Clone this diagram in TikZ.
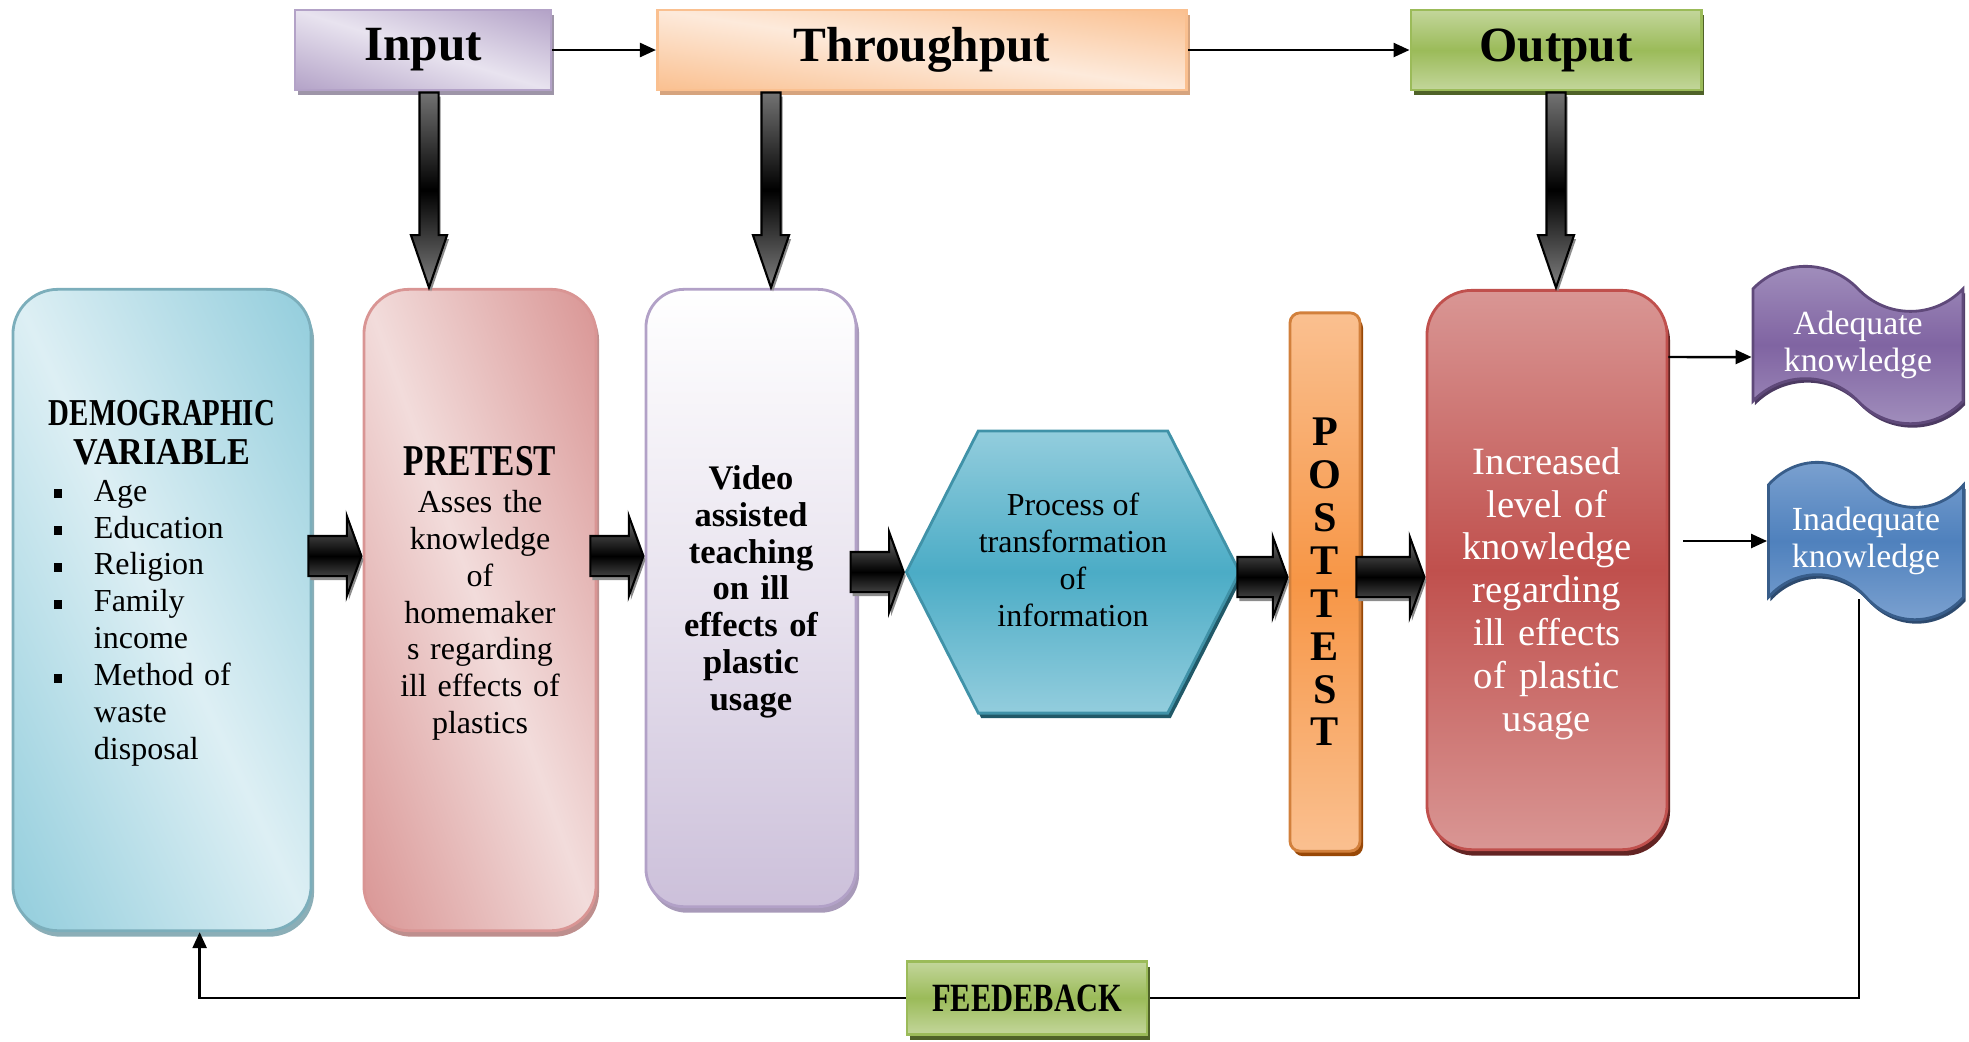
\documentclass[tikz,border=0pt]{standalone}
\usepackage{fontspec}
\setmainfont{Liberation Serif}
\newfontfamily\narrowserif[FakeStretch=0.76]{Liberation Serif}
\newfontfamily\semiserif[FakeStretch=0.9]{Liberation Serif}
\usetikzlibrary{arrows.meta, positioning, calc, shapes.geometric, shapes.symbols, shapes.arrows, shadows, backgrounds}

\definecolor{inpdark}{HTML}{B3A2C7}
\definecolor{inplight}{HTML}{E8E3EF}
\definecolor{inpshadow}{HTML}{9E95A8}
\definecolor{thrdark}{HTML}{FAC090}
\definecolor{thrlight}{HTML}{FDEADB}
\definecolor{thrshadow}{HTML}{D6A47E}
\definecolor{outmid}{HTML}{9BBB59}
\definecolor{outlight}{HTML}{C3D69B}
\definecolor{outshadow}{HTML}{4F6228}
\definecolor{demoblue}{HTML}{92CDDC}
\definecolor{demolight}{HTML}{DDEFF4}
\definecolor{prered}{HTML}{D99594}
\definecolor{prelight}{HTML}{F2DCDB}
\definecolor{vidlav}{HTML}{CCC0DA}
\definecolor{vidborder}{HTML}{B2A1C7}
\definecolor{hexmid}{HTML}{4BACC6}
\definecolor{hexlight}{HTML}{93CDDD}
\definecolor{hexshadow}{HTML}{215968}
\definecolor{postmid}{HTML}{F79646}
\definecolor{postlight}{HTML}{FAC090}
\definecolor{postshadow}{HTML}{984807}
\definecolor{incmid}{HTML}{C0504D}
\definecolor{inclight}{HTML}{D99694}
\definecolor{incshadow}{HTML}{632423}
\definecolor{adqmid}{HTML}{8064A2}
\definecolor{adqlight}{HTML}{A391BE}
\definecolor{adqborder}{HTML}{5F497A}
\definecolor{inadmid}{HTML}{4F81BD}
\definecolor{inadlight}{HTML}{7EA3D1}
\definecolor{inadborder}{HTML}{385D8A}

% light along one diagonal, dark in the other two corners
\newcommand{\diagshade}[3]{%
  \pgfdeclarefunctionalshading[#2,#3]{#1}{\pgfpointorigin}{\pgfpoint{100bp}{100bp}}
  {\pgfshadecolortorgb{#2}{\dk}\pgfshadecolortorgb{#3}{\lt}}
  {add 100 sub abs 50 div dup 1 gt {pop 1} if
   dup dup
   \dkred\space \ltred\space sub mul \ltred\space add
   3 1 roll
   \dkgreen\space \ltgreen\space sub mul \ltgreen\space add
   exch
   \dkblue\space \ltblue\space sub mul \ltblue\space add}}
\diagshade{inpshade}{inpdark}{inplight}
\diagshade{thrshade}{thrdark}{thrlight}
\diagshade{demoshade}{demoblue}{demolight}
\diagshade{preshade}{prered}{prelight}

% bullet and indent for the demographic list
\newcommand{\sqitem}{\hspace*{0.21cm}\makebox[0.40cm][l]{\rule[0.1em]{0.085cm}{0.085cm}}}
\newcommand{\sqcont}{\hspace*{0.61cm}}

\begin{document}
\begin{tikzpicture}[
    x=0.01cm, y=-0.01cm,
    title/.style={rectangle, line width=0.8pt, minimum height=0.8cm, inner sep=0pt, font=\fontsize{14}{16}\selectfont\bfseries},
    panel/.style={rectangle, rounded corners=0.45cm, line width=0.8pt, inner sep=0.2cm, font=\fontsize{9.1}{10.5}\selectfont},
    fat/.style={single arrow, draw=black, line width=0.6pt, top color=black!55, bottom color=black!50, middle color=black,
        single arrow head extend=0.2cm, single arrow tip angle=140, minimum width=0.78cm, minimum height=0.53cm, inner sep=0.19cm,
        drop shadow={shadow xshift=0.02cm, shadow yshift=-0.04cm, fill=black!45, opacity=1}},
    down/.style={fat, shape border rotate=270, minimum width=0.34cm, minimum height=1.95cm, inner sep=0.085cm,
        single arrow head extend=0.085cm, single arrow tip angle=38},
    wave/.style={tape, tape bend top=out and in, tape bend bottom=out and in, tape bend height=0.45cm, line width=0.8pt,
        minimum width=2.1cm, minimum height=1.52cm, inner sep=0pt, align=center, text=white, font=\fontsize{9.6}{10.4}\selectfont},
    link/.style={-{Triangle[length=0.16cm, width=0.14cm]}, line width=0.7pt}
]
\useasboundingbox (0,0) rectangle (1969,1041);

% top row
\node[title, draw=inpdark, shade, shading=inpshade,
    drop shadow={fill=inpshadow, opacity=1, shadow xshift=0.03cm, shadow yshift=-0.05cm}, minimum width=2.56cm] (inp) at (423,50) {Input};
\node[title, draw=thrdark, shade, shading=thrshade,
    drop shadow={fill=thrshadow, opacity=1, shadow xshift=0.03cm, shadow yshift=-0.05cm}, minimum width=5.29cm] (thr) at (922,50) {Throughput};
\node[title, draw=outmid, top color=outlight, bottom color=outlight, middle color=outmid,
    drop shadow={fill=outshadow, opacity=1, shadow xshift=0.03cm, shadow yshift=-0.05cm}, minimum width=2.90cm] (out) at (1556,50) {Output};

\draw[link] (inp) -- (thr);
\draw[link] (thr) -- (out);

% main row
\node[panel, draw=demoblue!85!black, shade, shading=demoshade,
    drop shadow={fill=demoblue!60!gray, opacity=1, shadow xshift=0.03cm, shadow yshift=-0.06cm},
    minimum width=2.98cm, minimum height=6.41cm, text width=2.58cm, align=left] (demo) at (162,610) {%
    {\bfseries\fontsize{10.8}{11}\selectfont\centering {\narrowserif DEMOGRAPHIC}\\{\semiserif VARIABLE}\par}
    \sqitem Age\\
    \sqitem Education\\
    \sqitem Religion\\
    \sqitem Family\\
    \sqcont income\\
    \sqitem Method of\\
    \sqcont waste\\
    \sqcont disposal\rule[-0.6cm]{0pt}{0.6cm}};

\node[panel, draw=prered, shade, shading=preshade,
    drop shadow={fill=prered!70!gray, opacity=1, shadow xshift=0.03cm, shadow yshift=-0.06cm},
    minimum width=2.32cm, minimum height=6.41cm, text width=1.9cm, align=center] (pre) at (480,610) {%
    {\narrowserif\bfseries\fontsize{12.5}{13.5}\selectfont PRETEST\par}
    Asses the\\knowledge\\of\\homemaker\\s regarding\\ill effects of\\plastics\rule[-0.4cm]{0pt}{0.4cm}};

\node[panel, rounded corners=0.38cm, draw=vidborder, top color=white, bottom color=vidlav, middle color=vidlav!45,
    drop shadow={fill=vidborder!80!gray, opacity=1, shadow xshift=0.03cm, shadow yshift=-0.06cm},
    minimum width=2.05cm, minimum height=6.17cm, text width=1.7cm, align=center, font=\fontsize{9.8}{10.5}\selectfont\bfseries] (vid) at (751,598) {%
    Video\\assisted\\teaching\\on ill\\effects of\\plastic\\usage\rule[-0.2cm]{0pt}{0.2cm}};

\node[signal, signal to=east and west, signal pointer angle=126, draw=hexmid!85!black, line width=0.8pt,
    top color=hexlight, bottom color=hexlight, middle color=hexmid,
    drop shadow={fill=hexshadow, opacity=1, shadow xshift=0.03cm, shadow yshift=-0.05cm},
    minimum width=3.33cm, minimum height=2.82cm, inner sep=0pt, align=center, font=\fontsize{9.1}{10.5}\selectfont] (hex) at (1073,572) {%
    Process of\\transformation\\of\\information\rule[-0.25cm]{0pt}{0.25cm}};

\node[panel, rounded corners=0.1cm, draw=postmid!85!black, top color=postlight, bottom color=postlight, middle color=postmid,
    drop shadow={fill=postshadow, opacity=1, shadow xshift=0.03cm, shadow yshift=-0.05cm},
    minimum width=0.70cm, minimum height=5.38cm, inner sep=0pt, align=center, font=\fontsize{12}{12.2}\selectfont\bfseries] (post) at (1325,582) {%
    P\\O\\S\\T\\T\\E\\S\\T};

\node[panel, draw=incmid, top color=inclight, bottom color=inclight, middle color=incmid,
    drop shadow={fill=incshadow, opacity=1, shadow xshift=0.03cm, shadow yshift=-0.06cm},
    minimum width=2.39cm, minimum height=5.59cm, text width=2.0cm, align=center, text=white, font=\fontsize{11}{12.2}\selectfont] (inc) at (1547,570) {%
    \rule{0pt}{0.74cm}Increased\\level of\\knowledge\\regarding\\ill effects\\of plastic\\usage};

% outcomes
\node[wave, draw=adqborder, top color=adqlight, bottom color=adqlight, middle color=adqmid,
    drop shadow={fill=adqborder!80!black, opacity=1, shadow xshift=0.02cm, shadow yshift=-0.04cm}] (adq) at (1858,345) {Adequate\\knowledge};
\node[wave, draw=inadborder, minimum width=1.95cm, top color=inadlight, bottom color=inadlight, middle color=inadmid,
    drop shadow={fill=inadborder!80!black, opacity=1, shadow xshift=0.02cm, shadow yshift=-0.04cm}] (inad) at (1866,541) {Inadequate\\knowledge};

% block arrows between the stages
\node[fat, anchor=tip] (a1) at (pre.west |- 0,556) {};
\node[fat, anchor=tip] (a2) at (vid.west |- 0,556) {};
\node[fat, anchor=tip] (a3) at (hex.west) {};
\node[fat, anchor=tip, minimum height=0.50cm] (a4) at (post.west |- 0,577) {};
\node[fat, anchor=tip, minimum height=0.68cm] (a5) at (inc.west |- 0,577) {};

% arrows from the top row
\node[down, anchor=tail] (d1) at ([xshift=0.06cm]inp.south) {};
\node[down, anchor=tail] (d2) at ([xshift=0.2cm]vid.north |- thr.south) {};
\node[down, anchor=tail] (d3) at (out.south) {};

% result arrows
\draw[link] (inc.east |- 0,357) -- ([yshift=-0.12cm]adq.west);
\coordinate (inadin) at (1683,541);
\draw[link] (inadin) -- (inad.west);

% feedback loop
\node[title, draw=outmid, top color=outlight, bottom color=outlight, middle color=outmid,
    drop shadow={fill=outshadow, opacity=1, shadow xshift=0.03cm, shadow yshift=-0.05cm},
    minimum width=2.40cm, minimum height=0.73cm, font=\narrowserif\bfseries\fontsize{11.4}{12}\selectfont] (fb) at (1027,998) {FEEDEBACK};
\coordinate (fbin) at ($(demo.south)!0.25!(demo.south east)$);
\begin{scope}[on background layer]
\draw[line width=0.7pt] ([xshift=-0.07cm]inad.south) |- (fb.east);
\end{scope}
\draw[link] (fb.west) -| (fbin);

\end{tikzpicture}
\end{document}
